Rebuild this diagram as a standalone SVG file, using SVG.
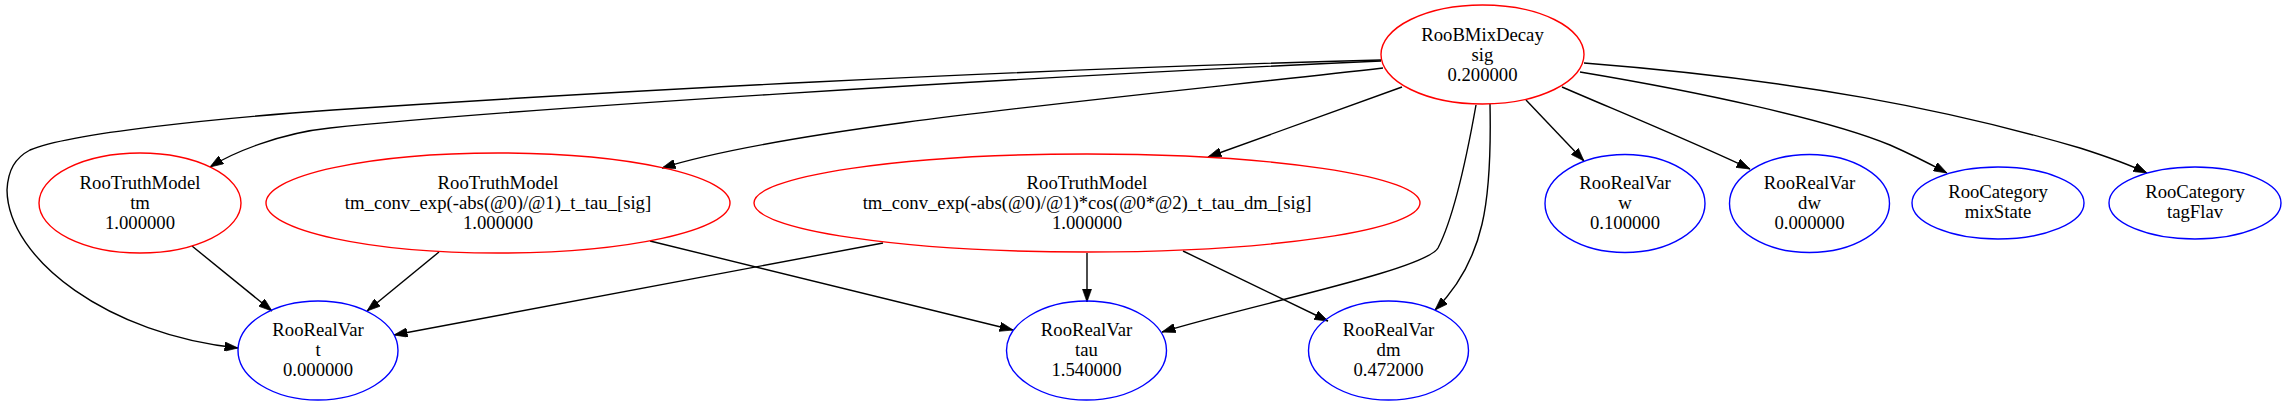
<svg xmlns="http://www.w3.org/2000/svg" width="2286" height="406" viewBox="0 0 2286 406">
<style>
.n ellipse{fill:none;stroke-width:1.4}
.r ellipse{stroke:#ff0000}
.b ellipse{stroke:#0000ff}
text{font-family:"Liberation Serif","Times New Roman",serif;font-size:18.7px;text-anchor:middle;fill:#000}
#edges path{fill:none;stroke:#000;stroke-width:1.4;marker-end:url(#ah)}
</style>
<defs>
<marker id="ah" viewBox="0 0 10 7" markerWidth="13.4" markerHeight="9.4" refX="10" refY="3.5" orient="auto" markerUnits="userSpaceOnUse">
<path d="M0,0 L10,3.5 L0,7 z" fill="#000" stroke="#000" stroke-width="0.5"/>
</marker>
</defs>
<rect width="2286" height="406" fill="#fff"/>
<g id="edges">
<path d="M1381,60 C1000,70 600,92 333,110 C220,118 70,133 30,150 C15,158 8,170 7,190 C8,260 110,335 238,348"/>
<path d="M1381,61 C1000,78 500,110 330,128 C280,133 232,153 210,167"/>
<path d="M1383,68 C1150,95 800,125 662,168"/>
<path d="M1402,87 L1208,157"/>
<path d="M1476,105 C1468,150 1455,215 1438,248 C1425,270 1250,305 1162,332"/>
<path d="M1490,104 C1492,200 1485,260 1435,310"/>
<path d="M1526,100 L1584,161"/>
<path d="M1562,87 C1620,112 1700,145 1750,169"/>
<path d="M1580,72 C1700,92 1830,120 1890,145 C1915,156 1932,165 1947,173"/>
<path d="M1584,63 C1800,80 1950,110 2080,148 C2105,156 2128,164 2147,173"/>
<path d="M192,246 L272,311"/>
<path d="M439,252 L367,311"/>
<path d="M650,241 L1013,330"/>
<path d="M883,243 L394,335"/>
<path d="M1087,253 L1087,302"/>
<path d="M1183,251 L1328,321"/>
</g>
<g id="sig" class="n r"><ellipse cx="1482.5" cy="54.5" rx="101.5" ry="49.5"/><text x="1482.5" y="40.5">RooBMixDecay</text><text x="1482.5" y="60.5">sig</text><text x="1482.5" y="80.5">0.200000</text></g>
<g id="tm" class="n r"><ellipse cx="140" cy="203" rx="101" ry="50"/><text x="140" y="188.5">RooTruthModel</text><text x="140" y="208.5">tm</text><text x="140" y="228.5">1.000000</text></g>
<g id="tmexp" class="n r"><ellipse cx="498" cy="203" rx="232" ry="50"/><text x="498" y="188.5">RooTruthModel</text><text x="498" y="208.5">tm_conv_exp(-abs(@0)/@1)_t_tau_[sig]</text><text x="498" y="228.5">1.000000</text></g>
<g id="tmcos" class="n r"><ellipse cx="1087" cy="203" rx="333" ry="49"/><text x="1087" y="188.5">RooTruthModel</text><text x="1087" y="208.5">tm_conv_exp(-abs(@0)/@1)*cos(@0*@2)_t_tau_dm_[sig]</text><text x="1087" y="228.5">1.000000</text></g>
<g id="w" class="n b"><ellipse cx="1625" cy="203.5" rx="80" ry="49"/><text x="1625" y="189">RooRealVar</text><text x="1625" y="209">w</text><text x="1625" y="229">0.100000</text></g>
<g id="dw" class="n b"><ellipse cx="1809.5" cy="203.5" rx="80" ry="49"/><text x="1809.5" y="189">RooRealVar</text><text x="1809.5" y="209">dw</text><text x="1809.5" y="229">0.000000</text></g>
<g id="mixState" class="n b"><ellipse cx="1998" cy="203" rx="86" ry="36"/><text x="1998" y="198">RooCategory</text><text x="1998" y="218">mixState</text></g>
<g id="tagFlav" class="n b"><ellipse cx="2195" cy="203" rx="86" ry="36"/><text x="2195" y="198">RooCategory</text><text x="2195" y="218">tagFlav</text></g>
<g id="t" class="n b"><ellipse cx="318" cy="350.5" rx="80" ry="49.5"/><text x="318" y="336">RooRealVar</text><text x="318" y="356">t</text><text x="318" y="376">0.000000</text></g>
<g id="tau" class="n b"><ellipse cx="1086.5" cy="350.5" rx="80" ry="49.5"/><text x="1086.5" y="336">RooRealVar</text><text x="1086.5" y="356">tau</text><text x="1086.5" y="376">1.540000</text></g>
<g id="dm" class="n b"><ellipse cx="1388.5" cy="350.5" rx="80" ry="49.5"/><text x="1388.5" y="336">RooRealVar</text><text x="1388.5" y="356">dm</text><text x="1388.5" y="376">0.472000</text></g>
</svg>
